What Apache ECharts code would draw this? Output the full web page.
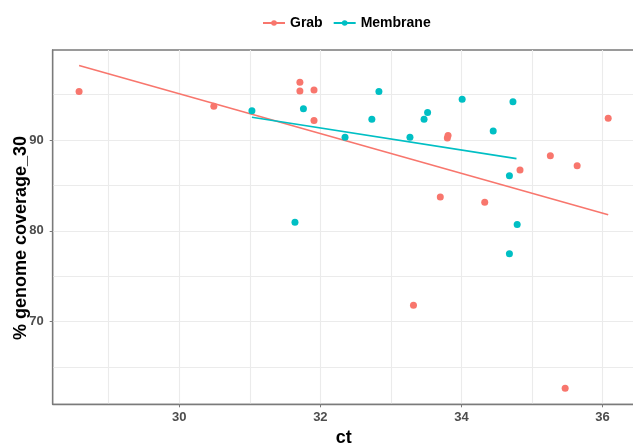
<!DOCTYPE html>
<html>
<head>
<meta charset="utf-8">
<script src="https://cdn.jsdelivr.net/npm/echarts@6/dist/echarts.min.js"></script>
<style>html,body{margin:0;padding:0;background:#fff;overflow:hidden;}#c{width:633px;height:443px;}</style>
</head>
<body>
<div id="c"></div>
<script>
// ---- data ----
const grabCt   = [28.58, 30.49, 31.71, 31.71, 31.91, 31.91, 33.32, 33.70, 33.80, 33.81, 34.33, 34.83, 35.26, 35.47, 35.64, 36.08];
const grabCov  = [95.33, 93.70, 96.36, 95.40, 95.51, 92.13, 71.81, 83.72, 90.20, 90.50, 83.13, 86.69, 88.27, 62.66, 87.17, 92.39];
const memCt    = [31.03, 31.64, 31.76, 32.35, 32.73, 32.83, 33.27, 33.47, 33.52, 34.01, 34.45, 34.68, 34.68, 34.73, 34.79];
const memCov   = [93.20, 80.93, 93.42, 90.30, 92.28, 95.33, 90.30, 92.28, 93.01, 94.49, 90.99, 86.07, 77.47, 94.19, 80.70];
const grabFitCt  = [28.58, 36.08];
const grabFitCov = [98.19, 81.77];
const memFitCt   = [31.03, 34.78];
const memFitCov  = [92.50, 87.94];
const xTicks = [30, 32, 34, 36];
const yTicks = [70, 80, 90];
const xGrid = [29, 30, 31, 32, 33, 34, 35, 36];
const yGrid = [65, 70, 75, 80, 85, 90, 95];
const seriesNames = ['Grab', 'Membrane'];
const colors = ['#F8766D', '#00BFC4'];

const zip = (a, b) => a.map((v, i) => [v, b[i]]);
const FONT = 'Liberation Sans, Arial, sans-serif';

const el = document.getElementById('c');
const chart = echarts.init(el, null, {renderer: 'canvas', width: 633, height: 443});
chart.setOption({
  animation: false,
  backgroundColor: '#fff',
  color: colors,
  grid: {left: 52.7, top: 50, right: -2, bottom: 38.7, containLabel: false, outerBoundsMode: 'none', show: true,
         borderColor: '#7a7a7a', borderWidth: 1.3, backgroundColor: 'transparent'},
  legend: {
    top: 11, left: 257, itemGap: 10, itemWidth: 22, itemHeight: 7,
    data: seriesNames,
    textStyle: {fontFamily: FONT, fontWeight: 'bold', fontSize: 14, color: '#000'}
  },
  xAxis: {
    type: 'value', min: 28.206, max: 36.46,
    splitLine: {show: false},
    axisLine: {show: true, lineStyle: {color: '#7a7a7a', width: 1.3}},
    axisTick: {show: true, length: 3, customValues: xTicks, lineStyle: {color: '#7a7a7a'}},
    axisLabel: {customValues: xTicks, margin: 7, color: '#4D4D4D', fontFamily: FONT, fontWeight: 'bold', fontSize: 13},
    name: 'ct', nameLocation: 'middle', nameGap: 23,
    nameTextStyle: {fontFamily: FONT, fontWeight: 'bold', fontSize: 18, color: '#000'}
  },
  yAxis: {
    type: 'value', min: 60.9, max: 99.9,
    splitLine: {show: false},
    axisLine: {show: true, lineStyle: {color: '#7a7a7a', width: 1.3}},
    axisTick: {show: true, length: 3, customValues: yTicks, lineStyle: {color: '#7a7a7a'}},
    axisLabel: {customValues: yTicks, margin: 9, color: '#4D4D4D', fontFamily: FONT, fontWeight: 'bold', fontSize: 13}
  },
  graphic: [{
    type: 'text', rotation: Math.PI / 2,
    x: 21, y: 238,
    style: {text: '% genome coverage_30', fontFamily: FONT, fontWeight: 'bold', fontSize: 18, fill: '#000',
            textAlign: 'center', textVerticalAlign: 'middle'}
  }],
  series: [
    {
      type: 'line', name: 'Grab', data: zip(grabFitCt, grabFitCov),
      symbol: 'circle', symbolSize: 7, showSymbol: false, z: 3,
      lineStyle: {width: 1.6, color: colors[0]}, itemStyle: {color: colors[0]}
    },
    {
      type: 'line', name: 'Membrane', data: zip(memFitCt, memFitCov),
      symbol: 'circle', symbolSize: 7, showSymbol: false, z: 3,
      lineStyle: {width: 1.6, color: colors[1]}, itemStyle: {color: colors[1]}
    },
    {
      type: 'scatter', name: 'Grab', data: zip(grabCt, grabCov), symbolSize: 7, z: 4,
      itemStyle: {color: colors[0], opacity: 1}
    },
    {
      type: 'scatter', name: 'Membrane', data: zip(memCt, memCov), symbolSize: 7, z: 4,
      itemStyle: {color: colors[1], opacity: 1}
    },
    {
      type: 'line', name: '_grid', data: [], z: 0, zlevel: 0, silent: true,
      markLine: {
        z: 0, silent: true, symbol: 'none', label: {show: false}, emphasis: {disabled: true},
        lineStyle: {color: '#EBEBEB', width: 1.1, type: 'solid'},
        data: xGrid.map(v => ({xAxis: v})).concat(yGrid.map(v => ({yAxis: v})))
      }
    }
  ]
});
</script>
</body>
</html>
